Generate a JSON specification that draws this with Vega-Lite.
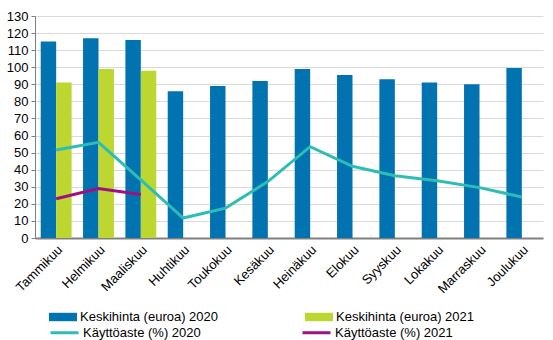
{
  "$schema": "https://vega.github.io/schema/vega-lite/v6.json",
  "width": 508,
  "height": 222,
  "autosize": {"type": "none"},
  "padding": {"left": 35, "top": 16, "right": 10, "bottom": 102},
  "background": "white",
  "config": {
    "view": {"stroke": null},
    "font": "Liberation Sans",
    "axis": {"labelFont": "Liberation Sans", "labelFontSize": 13, "labelColor": "#000000"},
    "legend": {"labelFont": "Liberation Sans", "labelFontSize": 13, "labelColor": "#000000"}
  },
  "data": {"values": [
    {"kk": "Tammikuu", "price2020": 115, "price2021": 91, "use2020": 51.5, "use2021": 23},
    {"kk": "Helmikuu", "price2020": 117, "price2021": 99, "use2020": 56, "use2021": 29},
    {"kk": "Maaliskuu", "price2020": 116, "price2021": 98, "use2020": 34, "use2021": 25.5},
    {"kk": "Huhtikuu", "price2020": 86, "price2021": null, "use2020": 11.7, "use2021": null},
    {"kk": "Toukokuu", "price2020": 89, "price2021": null, "use2020": 17.5, "use2021": null},
    {"kk": "Kesäkuu", "price2020": 92, "price2021": null, "use2020": 33, "use2021": null},
    {"kk": "Heinäkuu", "price2020": 99, "price2021": null, "use2020": 53.5, "use2021": null},
    {"kk": "Elokuu", "price2020": 95.5, "price2021": null, "use2020": 42, "use2021": null},
    {"kk": "Syyskuu", "price2020": 93, "price2021": null, "use2020": 36.5, "use2021": null},
    {"kk": "Lokakuu", "price2020": 91, "price2021": null, "use2020": 33.5, "use2021": null},
    {"kk": "Marraskuu", "price2020": 90, "price2021": null, "use2020": 29.5, "use2021": null},
    {"kk": "Joulukuu", "price2020": 99.5, "price2021": null, "use2020": 24, "use2021": null}
  ]},
  "encoding": {
    "x": {
      "field": "kk", "type": "nominal", "sort": null,
      "scale": {"paddingInner": 0.27, "paddingOuter": 0.135},
      "axis": {"title": null, "labelAngle": -45, "ticks": false, "domainColor": "#808080", "domainWidth": 2, "labelPadding": 5, "grid": false, "labelOverlap": false}
    },
    "y": {
      "field": "arvo", "type": "quantitative",
      "scale": {"domain": [0, 130], "nice": false},
      "axis": {"title": null, "values": [0,10,20,30,40,50,60,70,80,90,100,110,120,130], "labelOverlap": false, "gridColor": "#d9d9d9", "domainColor": "#808080", "tickColor": "#808080", "tickSize": 4, "labelPadding": 3}
    }
  },
  "layer": [
    {
      "transform": [
        {"fold": ["price2020", "price2021"], "as": ["sarja", "arvo"]},
        {"filter": "datum.arvo != null"},
        {"calculate": "datum.sarja == 'price2020' ? 'Keskihinta (euroa) 2020' : 'Keskihinta (euroa) 2021'", "as": "nimi"}
      ],
      "mark": {"type": "bar"},
      "encoding": {
        "xOffset": {"field": "nimi", "type": "nominal", "scale": {"domain": ["Keskihinta (euroa) 2020", "Keskihinta (euroa) 2021"], "paddingInner": 0}},
        "fill": {
          "field": "nimi", "type": "nominal",
          "scale": {"domain": ["Keskihinta (euroa) 2020", "Keskihinta (euroa) 2021"], "range": ["#0073b0", "#bed630"]},
          "legend": {"title": null, "orient": "none", "legendX": 14, "legendY": 287, "direction": "horizontal", "columns": 2, "columnPadding": 86, "symbolType": "M-1,-0.3H1V0.3H-1Z", "symbolSize": 784, "symbolStrokeWidth": 0, "labelOffset": 3, "rowPadding": 0}
        }
      }
    },
    {
      "transform": [
        {"fold": ["use2020", "use2021"], "as": ["sarja", "arvo"]},
        {"filter": "datum.arvo != null"},
        {"calculate": "datum.sarja == 'use2020' ? 'Käyttöaste (%) 2020' : 'Käyttöaste (%) 2021'", "as": "nimi"}
      ],
      "mark": {"type": "line", "strokeWidth": 3},
      "encoding": {
        "stroke": {
          "field": "nimi", "type": "nominal",
          "scale": {"domain": ["Käyttöaste (%) 2020", "Käyttöaste (%) 2021"], "range": ["#2dbdb6", "#a0107f"]},
          "legend": {"title": null, "orient": "none", "legendX": 14, "legendY": 301, "direction": "horizontal", "columns": 2, "columnPadding": 95, "symbolType": "stroke", "symbolSize": 784, "symbolStrokeWidth": 3, "labelOffset": 3, "rowPadding": 0}
        }
      }
    }
  ],
  "resolve": {"scale": {"xOffset": "independent"}}
}
